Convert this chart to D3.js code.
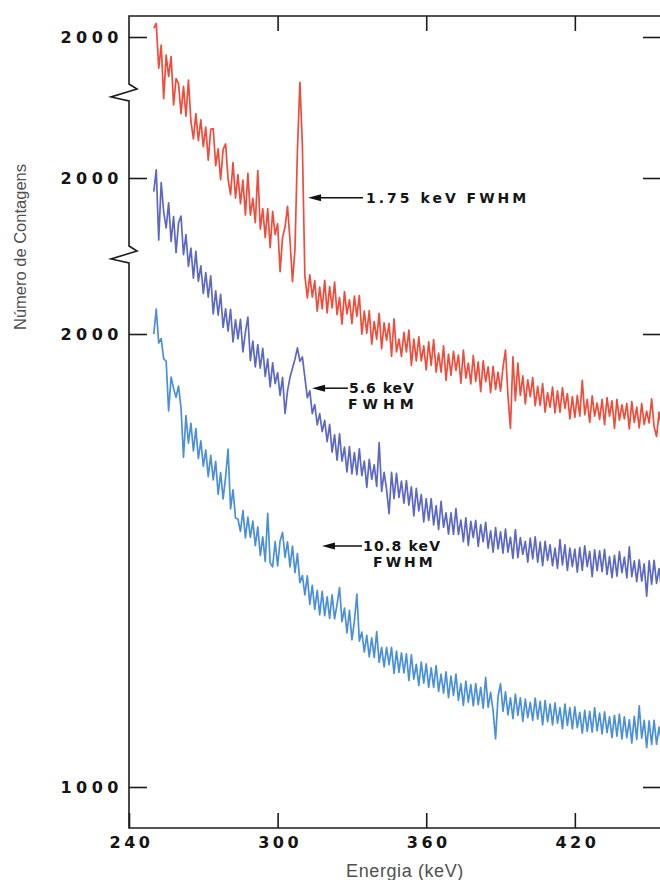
<!DOCTYPE html>
<html>
<head>
<meta charset="utf-8">
<script src="https://cdn.jsdelivr.net/npm/d3@7/dist/d3.min.js"></script>
<style>
  body{margin:0;background:#fff;}
  .tick-font{font-family:"DejaVu Sans",sans-serif;font-weight:bold;fill:#151515;}
  .title-font{font-family:"Liberation Sans",Arial,sans-serif;fill:#505050;}
</style>
</head>
<body>
<svg id="viz-svg" width="660" height="880"></svg>
<script>
// channel energies (keV), one channel per keV
var energies = d3.range(250, 456)
  , xTicks = [240, 300, 360, 420]
  , yTicks = [1000, 2000]
  // counts, 1.75 keV FWHM (top)
  , counts175 = [
      2019,2030,1931,1982,1864,1960,1913,1957,1850,1908
    , 1897,1831,1891,1825,1905,1814,1775,1831,1771,1817
    , 1758,1801,1728,1796,1798,1716,1753,1685,1752,1764
    , 1686,1652,1723,1644,1696,1632,1684,1607,1699,1607
    , 1644,1590,1705,1576,1621,1557,1621,1535,1615,1564
    , 1588,1482,1557,1581,1626,1552,1460,1530,1750,1900
    , 1760,1473,1424,1475,1426,1462,1395,1448,1400,1463
    , 1391,1449,1402,1459,1387,1425,1366,1438,1389,1420
    , 1367,1428,1383,1429,1344,1395,1346,1396,1322,1372
    , 1333,1390,1312,1369,1331,1368,1295,1378,1305,1333
    , 1295,1348,1305,1353,1275,1333,1285,1338,1285,1318
    , 1265,1327,1275,1332,1260,1302,1260,1318,1242,1300
    , 1253,1306,1264,1298,1236,1309,1247,1280,1234,1297
    , 1240,1283,1217,1285,1239,1272,1215,1273,1222,1260
    , 1218,1271,1309,1208,1136,1294,1197,1280,1209,1252
    , 1190,1243,1206,1248,1186,1229,1187,1235,1172,1215
    , 1183,1227,1170,1219,1172,1226,1180,1213,1157,1206
    , 1160,1209,1163,1242,1166,1200,1149,1208,1163,1192
    , 1156,1200,1144,1204,1163,1197,1136,1200,1154,1188
    , 1157,1191,1135,1195,1149,1183,1137,1191,1145,1174
    , 1148,1201,1140,1118,1172,1135]
  // counts, 5.6 keV FWHM (middle)
  , counts56 = [
      1970,2018,1863,1990,1925,1890,1945,1860,1915,1835
    , 1901,1916,1831,1875,1805,1845,1779,1838,1772,1806
    , 1745,1791,1737,1784,1700,1751,1697,1743,1670,1711
    , 1662,1710,1638,1687,1645,1688,1616,1660,1693,1597
    , 1640,1583,1632,1580,1624,1562,1600,1539,1592,1546
    , 1570,1520,1560,1480,1530,1560,1580,1600,1625,1595
    , 1605,1560,1515,1530,1480,1500,1455,1480,1440,1465
    , 1418,1456,1395,1433,1377,1435,1375,1406,1351,1407
    , 1347,1394,1345,1402,1343,1375,1317,1379,1335,1367
    , 1319,1416,1308,1350,1312,1259,1350,1292,1348,1295
    , 1331,1282,1332,1278,1318,1254,1315,1265,1301,1241
    , 1292,1244,1292,1234,1277,1224,1286,1229,1261,1214
    , 1261,1213,1270,1213,1245,1197,1250,1189,1242,1206
    , 1244,1187,1235,1197,1240,1183,1221,1174,1228,1181
    , 1219,1172,1225,1174,1207,1160,1224,1162,1206,1169
    , 1198,1152,1205,1159,1208,1152,1196,1144,1198,1156
    , 1190,1144,1183,1138,1202,1146,1190,1134,1183,1142
    , 1181,1130,1184,1134,1188,1142,1176,1120,1179,1133
    , 1177,1131,1180,1125,1164,1118,1167,1121,1175,1129
    , 1163,1117,1186,1120,1155,1109,1157,1110,1148,1077
    , 1155,1103,1156,1105,1138,1091]
  // counts, 10.8 keV FWHM (bottom)
  , counts108 = [
      2000,2055,1980,1990,1945,1940,1830,1905,1880,1860
    , 1885,1837,1728,1820,1759,1803,1742,1791,1725,1764
    , 1708,1744,1685,1732,1678,1719,1646,1694,1636,1684
    , 1746,1614,1656,1594,1591,1564,1610,1550,1596,1551
    , 1587,1533,1574,1511,1552,1498,1604,1495,1486,1542
    , 1488,1543,1562,1507,1541,1486,1532,1473,1515,1451
    , 1467,1424,1466,1403,1445,1392,1434,1380,1432,1378
    , 1420,1372,1424,1371,1403,1440,1365,1395,1340,1390
    , 1325,1366,1426,1322,1342,1298,1335,1287,1329,1286
    , 1343,1275,1308,1265,1308,1270,1308,1251,1300,1253
    , 1296,1252,1294,1235,1292,1238,1271,1224,1276,1229
    , 1272,1220,1263,1220,1268,1211,1249,1207,1254,1197
    , 1245,1202,1249,1191,1228,1180,1234,1187,1226,1179
    , 1228,1182,1220,1174,1242,1176,1209,1168,1106,1200
    , 1228,1167,1210,1159,1197,1151,1205,1158,1197,1145
    , 1194,1153,1187,1147,1196,1150,1189,1137,1191,1144
    , 1183,1137,1186,1141,1175,1129,1183,1136,1175,1128
    , 1177,1131,1165,1119,1169,1123,1167,1121,1175,1124
    , 1163,1117,1166,1120,1155,1109,1158,1112,1161,1106
    , 1155,1109,1148,1097,1156,1105,1179,1108,1147,1087
    , 1146,1094,1147,1094,1132,1100]
  // arrow labels: series index, arrow tip / tail energy, count level
  , annotations = [
      {s:0, tipE:312.3, endE:334.5, c:1645, lines:["1.75 keV FWHM"], ls:[3], dx:[3], dy:[5]}
    , {s:1, tipE:313.9, endE:328.4, c:1536, lines:["5.6 keV","FWHM"], ls:[1,5], dx:[1,0], dy:[5,21]}
    , {s:2, tipE:317.9, endE:334.1, c:1532, lines:["10.8 keV","FWHM"], ls:[1.2,3], dx:[1,11], dy:[5,21]}
  ]
  ;

var svg = d3.select("#viz-svg")
  , colors = ["#ef4c3b", "#5c68c2", "#4b8fd9"]
  , panel2000 = [37, 178, 334]   // pixel row of each panel's "2000" tick
  , span = 453                    // pixels per 1000 counts
  , plotLeft = 129, plotRight = 664, plotTop = 16, plotBottom = 828
  , xScale = d3.scaleLinear().domain([240, 456]).range([plotLeft, plotRight])
  , yScales = panel2000.map(function(p){
      return d3.scaleLinear().domain([1000, 2000]).range([p + span, p]);
    })
  , seriesValues = [counts175, counts56, counts108]
  , axisColor = "#1c1c1c"
  ;

// left / right ticks, one set per panel
yScales.forEach(function(ys, i){
  var vals = (i == 2) ? yTicks : [2000];
  var gl = svg.append("g")
    .attr("transform", "translate(" + plotLeft + ",0)")
    .call(d3.axisLeft(ys).tickValues(vals).tickSizeInner(-18).tickSizeOuter(0).tickPadding(6).tickFormat(d3.format("d")));
  gl.select(".domain").remove();
  gl.selectAll(".tick line").attr("stroke", axisColor).attr("stroke-width", 1.6);
  gl.selectAll(".tick text")
    .attr("class", "tick-font")
    .style("font-size", "16px")
    .style("letter-spacing", "4.5px");

  var gr = svg.append("g")
    .attr("transform", "translate(" + plotRight + ",0)")
    .call(d3.axisRight(ys).tickValues(vals).tickSizeInner(-21).tickSizeOuter(0).tickFormat(""));
  gr.select(".domain").remove();
  gr.selectAll(".tick line").attr("stroke", axisColor).attr("stroke-width", 1.6);
});

var gb = svg.append("g")
  .attr("transform", "translate(0," + plotBottom + ")")
  .call(d3.axisBottom(xScale).tickValues(xTicks).tickSizeInner(-15).tickSizeOuter(0).tickPadding(9));
gb.select(".domain").remove();
gb.selectAll(".tick line").attr("stroke", axisColor).attr("stroke-width", 1.6);
gb.selectAll(".tick text")
  .attr("class", "tick-font")
  .attr("dx", 2)
  .style("font-size", "16px")
  .style("letter-spacing", "3.5px");

var gt = svg.append("g")
  .attr("transform", "translate(0," + plotTop + ")")
  .call(d3.axisTop(xScale).tickValues(xTicks.slice(1)).tickSizeInner(-15).tickSizeOuter(0).tickFormat(""));
gt.select(".domain").remove();
gt.selectAll(".tick line").attr("stroke", axisColor).attr("stroke-width", 1.6);

// frame with axis breaks between the panels
var breaks = [93, 255];
var framePath = d3.path();
framePath.moveTo(plotLeft, plotTop);
breaks.forEach(function(b){
  framePath.lineTo(plotLeft, b - 9);
  framePath.lineTo(plotLeft + 8, b - 4);
  framePath.lineTo(plotLeft - 18, b + 4);
  framePath.lineTo(plotLeft, b + 8);
});
framePath.lineTo(plotLeft, plotBottom);
framePath.lineTo(plotRight, plotBottom);
framePath.lineTo(plotRight, plotTop);
framePath.closePath();
svg.append("path")
  .attr("d", framePath.toString())
  .attr("fill", "none")
  .attr("stroke", axisColor)
  .attr("stroke-width", 1.6)
  .attr("stroke-linejoin", "miter");

// spectra
seriesValues.forEach(function(vals, i){
  var line = d3.line()
    .x(function(d, j){ return xScale(energies[j]); })
    .y(function(d){ return yScales[i](d); });
  svg.append("path")
    .datum(vals.slice(0, energies.length))
    .attr("class", "spectrum")
    .attr("fill", "none")
    .attr("stroke", colors[i])
    .attr("stroke-width", 1.7)
    .attr("stroke-linejoin", "round")
    .attr("d", line);
});

// arrows + labels
annotations.forEach(function(a){
  var ty = yScales[a.s](a.c)
    , tx = xScale(a.tipE)
    , ex = xScale(a.endE);
  svg.append("line")
    .attr("x1", tx + 8).attr("x2", ex)
    .attr("y1", ty).attr("y2", ty)
    .attr("stroke", "#111").attr("stroke-width", 1.5);
  svg.append("path")
    .attr("d", "M" + tx + "," + ty + "L" + (tx + 13) + "," + (ty - 3.5) + "L" + (tx + 13) + "," + (ty + 3.5) + "Z")
    .attr("fill", "#111");
  a.lines.forEach(function(t, k){
    svg.append("text")
      .attr("class", "tick-font")
      .attr("x", ex + a.dx[k])
      .attr("y", ty + a.dy[k])
      .style("font-size", "14px")
      .style("letter-spacing", a.ls[k] + "px")
      .text(t);
  });
});

// axis titles
svg.append("text")
  .attr("class", "title-font")
  .attr("transform", "translate(26," + 247 + ") rotate(-90)")
  .attr("text-anchor", "middle")
  .style("font-size", "16.5px")
  .text("Número de Contagens");

svg.append("text")
  .attr("class", "title-font")
  .attr("x", 405)
  .attr("y", 877)
  .attr("text-anchor", "middle")
  .style("font-size", "18px")
  .style("letter-spacing", "0.6px")
  .text("Energia (keV)");
</script>
</body>
</html>
